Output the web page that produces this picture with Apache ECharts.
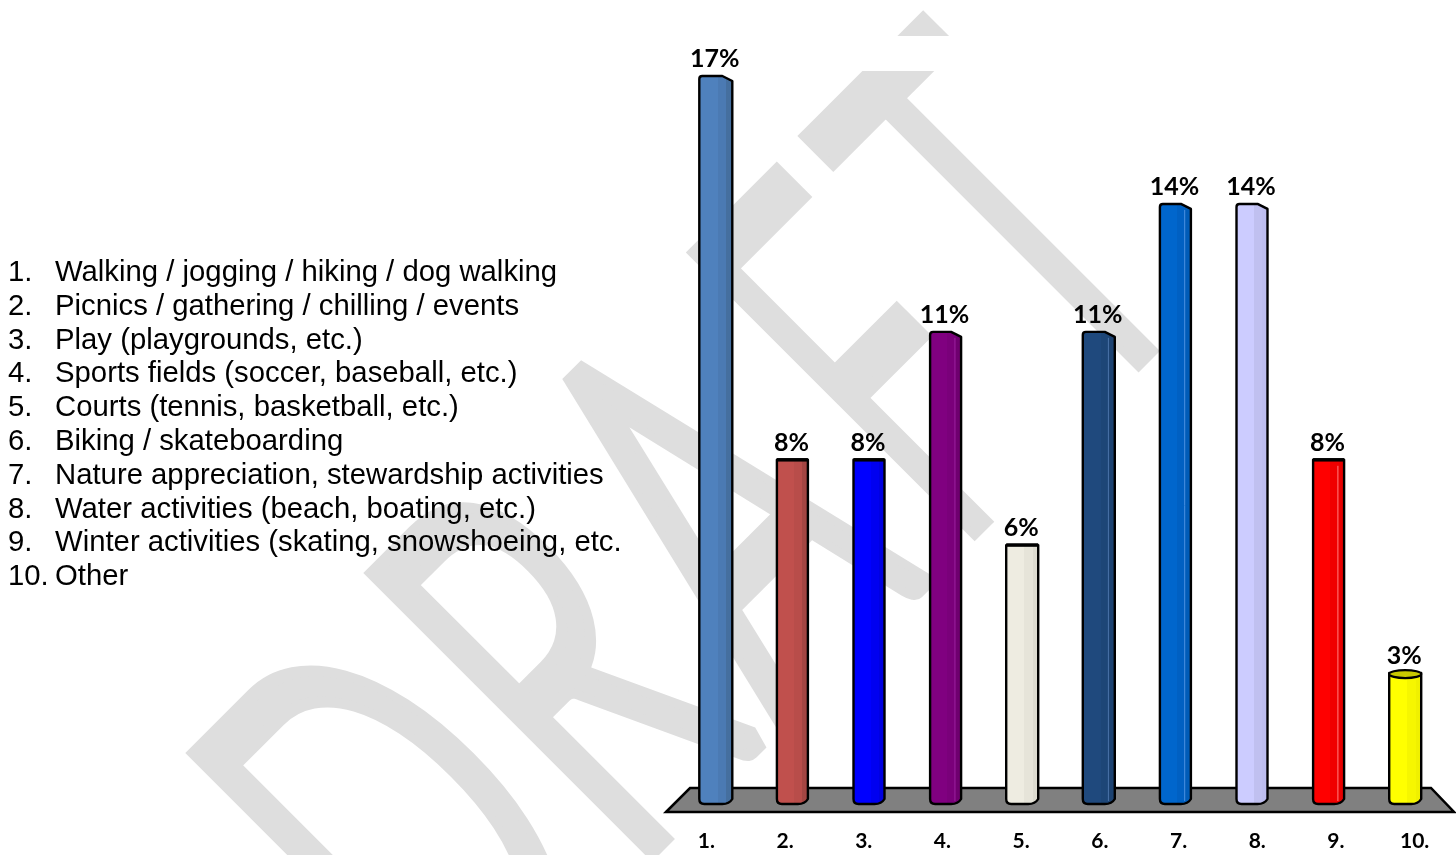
<!DOCTYPE html>
<html><head><meta charset="utf-8">
<style>html,body{margin:0;padding:0;background:#fff}#c{width:1456px;height:855px}</style>
<script src="https://cdn.jsdelivr.net/npm/echarts@6/dist/echarts.min.js"></script>
</head><body><div id="c"></div>
<script>
const tickLabels = ['1.','2.','3.','4.','5.','6.','7.','8.','9.','10.'];
const values = [17,8,8,11,6,11,14,14,8,3];
const activities = [
 'Walking / jogging / hiking / dog walking',
 'Picnics / gathering / chilling / events',
 'Play (playgrounds, etc.)',
 'Sports fields (soccer, baseball, etc.)',
 'Courts (tennis, basketball, etc.)',
 'Biking / skateboarding',
 'Nature appreciation, stewardship activities',
 'Water activities (beach, boating, etc.)',
 'Winter activities (skating, snowshoeing, etc.',
 'Other'
];
const baseColors = ['#4f81bd','#c0504d','#0000ff','#800080','#eeece1','#1f497d','#0066cc','#ccccff','#ff0000','#ffff00'];
const midColors = ['#4b7ab3','#b84d4a','#0000f0','#7a007a','#e6e4d9','#1d4677','#0060c2','#c0c0f0','#f00000','#f6f600'];
const shadeColors = ['#456f9f','#a44643','#0000e0','#6f006f','#dddbd0','#1c4271','#005cb8','#bdbdee','#e80000','#f0f000'];
const glintColors = [null,null,null,'#96209a',null,'#4a74a8','#4a90e0',null,'#ff8080',null];
const capKinds = ['hump','flat','flat','hump','flat','hump','hump','hump','flat','oval'];
const barWidths = [33,31,31,31,32,32,31,31,31,32];
const watermarkLetters = ['D','R','A','F','T'];
const watermarkAnchors = [[324,927],[502,747],[655,599],[827,424],[956,290]];
const watermarkWidths = [1,1,1,.86,.94];

const chart = echarts.init(document.getElementById('c'),null,{renderer:'canvas'});

function renderBar(params, api){
  const i = api.value(0), v = api.value(1);
  const top = api.coord([i,v]), base = api.coord([i,0]);
  const w = barWidths[i], L = top[0]-w/2, R = top[0]+w/2, T = top[1], B = base[1];
  const kind = capKinds[i];
  const fill = {type:'linear',x:0,y:0,x2:1,y2:0,colorStops:[
    {offset:0,color:baseColors[i]},{offset:.55,color:baseColors[i]},
    {offset:.55,color:midColors[i]},{offset:.8,color:midColors[i]},
    {offset:.8,color:shadeColors[i]},{offset:1,color:shadeColors[i]}]};
  let head;
  if(kind==='hump') head = `M${L} ${T+3}Q${L} ${T} ${L+3} ${T}L${R-10} ${T}L${R} ${T+5}`;
  else head = `M${L} ${T}L${R} ${T}`;
  const path = head+`L${R} ${B-2}Q${R-3} ${B+3} ${R-10} ${B+3}L${L+5} ${B+3}Q${L} ${B+3} ${L} ${B-2}Z`;
  const children = [{type:'path',shape:{pathData:path},style:{fill,stroke:'#000',lineWidth:2.4,lineJoin:'round'}}];
  if(glintColors[i]) children.push({type:'line',shape:{x1:L+w*.8,y1:T+6,x2:L+w*.8,y2:B},style:{stroke:glintColors[i],lineWidth:1}});
  if(kind==='flat') children.push({type:'line',shape:{x1:L,y1:T,x2:R,y2:T},style:{stroke:'#000',lineWidth:3.5}});
  if(kind==='oval') children.push({type:'ellipse',shape:{cx:top[0],cy:T+1,rx:w/2,ry:4},style:{fill:'#c8c800',stroke:'#000',lineWidth:2.2}});
  children.push({type:'text',style:{text:v+'%',x:top[0]-1,y:T-17,align:'center',verticalAlign:'middle',
    fill:'#000',font:'700 25px Lato'}});
  return {type:'group',children};
}

const legendRows = [];
activities.forEach((t,i)=>{
  const y = 273+33.8*i;
  legendRows.push({type:'text',z:20,style:{text:tickLabels[i],x:8,y,fill:'#000',font:'29.3px "Liberation Sans"',verticalAlign:'middle'}});
  legendRows.push({type:'text',z:20,style:{text:t,x:55,y,fill:'#000',font:'29.3px "Liberation Sans"',verticalAlign:'middle'}});
});

const watermark = watermarkLetters.map((ch,i)=>({
  type:'text',x:watermarkAnchors[i][0],y:watermarkAnchors[i][1],rotation:Math.PI/4,scaleX:watermarkWidths[i],scaleY:1.71,z:0,silent:true,
  style:{text:ch,font:'300 315px Lato',fill:'#dedede',stroke:'#dedede',lineWidth:16,lineJoin:'round',align:'left',verticalAlign:'middle'}
}));

chart.setOption({
  animation:false,
  backgroundColor:'#fff',
  grid:[
    {left:677.5,width:766,top:76,height:725},
    {left:667,width:787,top:75,height:737}
  ],
  xAxis:[
    {type:'category',gridIndex:0,data:tickLabels,show:false},
    {type:'category',gridIndex:1,data:tickLabels,axisLine:{show:false},axisTick:{show:false},
     axisLabel:{margin:19,color:'#000',fontFamily:'Lato',fontWeight:700,fontSize:21,interval:0}}
  ],
  yAxis:[
    {type:'value',gridIndex:0,min:0,max:17,show:false},
    {type:'value',gridIndex:1,min:0,max:17,show:false}
  ],
  graphic:[
    ...watermark,
    {type:'rect',z:1,silent:true,shape:{x:640,y:36,width:816,height:35},style:{fill:'#fff'}},
    {type:'polygon',z:1,silent:true,shape:{points:[[666,812],[690,788],[1431,788],[1454,812]]},style:{fill:'#808080',stroke:'#000',lineWidth:2.5}},
    ...legendRows
  ],
  series:[{type:'custom',xAxisIndex:0,yAxisIndex:0,z:5,renderItem:renderBar,clip:false,
    data:values.map((v,i)=>[i,v])}]
});
</script></body></html>
